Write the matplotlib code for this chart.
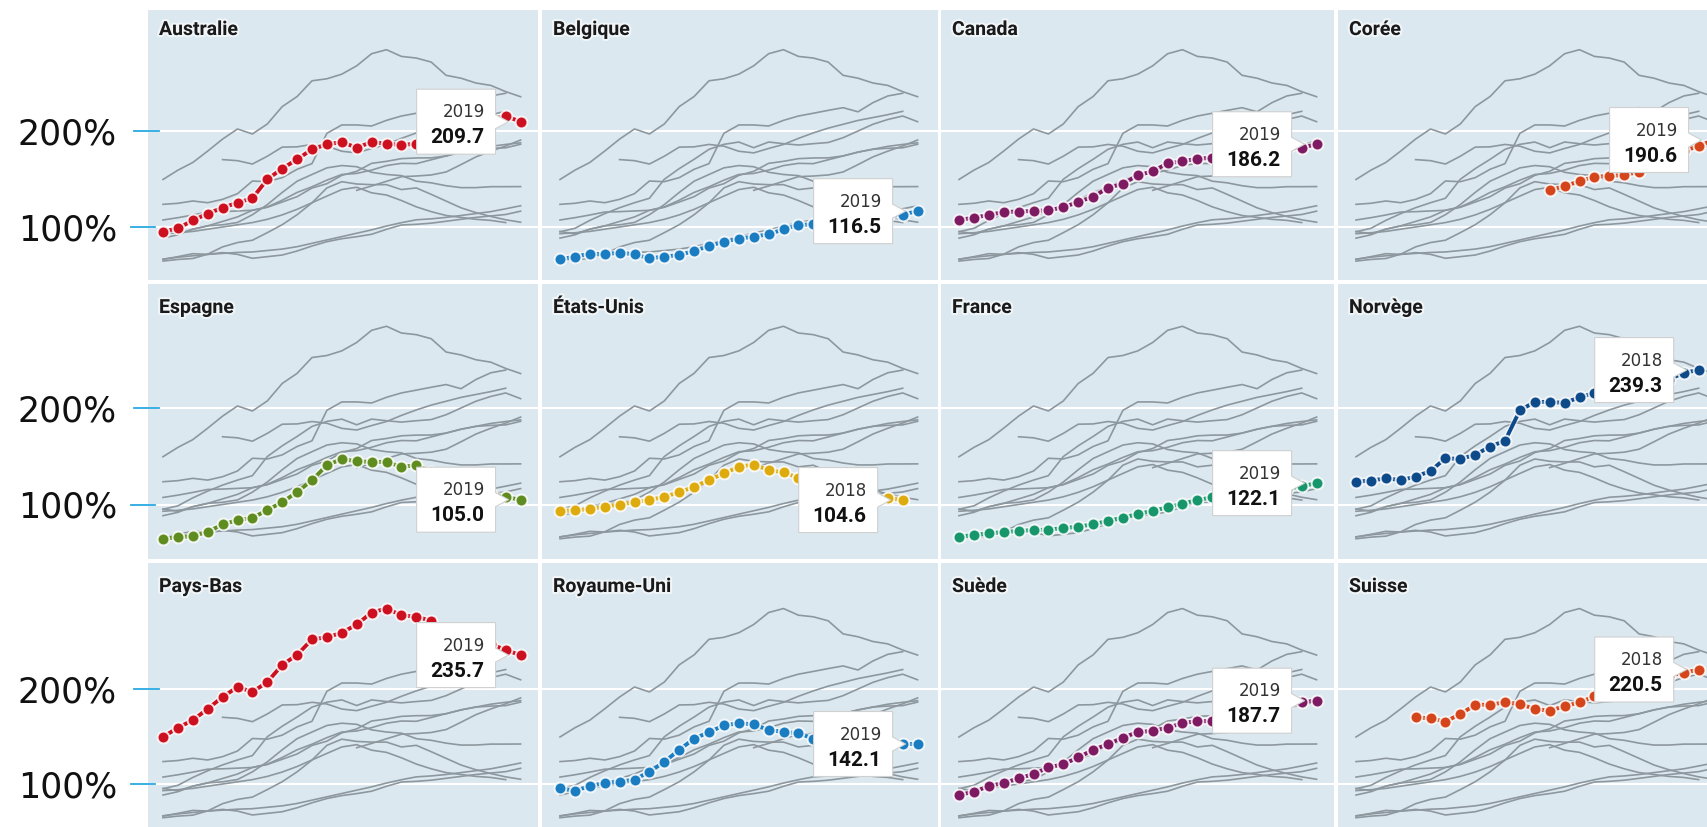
import numpy as np
import matplotlib
matplotlib.use('Agg')
import matplotlib.pyplot as plt
import matplotlib.patheffects as pe
import matplotlib.transforms as mtransforms
from matplotlib.patches import Polygon
from matplotlib.lines import Line2D

nan = np.nan
years = list(range(1995, 2020))

countries = ['Australie', 'Belgique', 'Canada', 'Corée',
             'Espagne', 'États-Unis', 'France', 'Norvège',
             'Pays-Bas', 'Royaume-Uni', 'Suède', 'Suisse']

australie = [95.1, 98.6, 106.9, 113.9, 120.1, 125.3, 129.9, 149.7, 160.8, 170.5, 180.9, 186.1, 188.5,
             182.6, 188.5, 186.8, 185.4, 186.8, 188, 193, 200, 207, 212, 215.6, 209.7]
belgique = [66.3, 69.1, 72.2, 71.5, 73.3, 71.5, 67.4, 69.1, 70.8, 75.0, 80.2, 84.7, 87.8,
            89.9, 92.4, 97.6, 102.1, 102.8, 104, 106, 108, 110, 111.5, 113, 116.5]
canada = [107.3, 109.7, 112.5, 115.6, 116.0, 116.7, 117.4, 120.5, 126.0, 131.6, 140.6, 145.1, 153.8,
          158.0, 166.3, 168.4, 171.2, 171.9, 172, 174, 178, 181, 182, 182.5, 186.2]
coree = [nan, nan, nan, nan, nan, nan, nan, nan, nan, nan, nan, nan, nan,
         138.2, 142.7, 147.6, 152.4, 153.1, 154.2, 157.3, 165, 173, 179, 184.4, 190.6]
espagne = [64.5, 66.2, 67.2, 71.7, 79.3, 83.8, 86.2, 94.1, 102.4, 112.8, 125.2, 140.7, 147.2,
           144.8, 144.1, 144.1, 139.0, 140.7, 134, 127, 120, 115, 111, 107.5, 105.0]
etats_unis = [93, 94, 95.4, 97.7, 100, 102.3, 104.6, 108, 112.6, 118.4, 125.3, 132.2, 139,
              141.4, 135.6, 133.3, 127.6, 121, 116, 112, 110, 108, 106.9, 104.6, nan]
france = [66.5, 68.5, 70, 71.5, 72.5, 73.5, 74, 75.5, 77, 79.5, 83, 86.5, 90,
          93.5, 97, 101, 104.5, 107.5, 108.5, 110, 112, 114, 116, 119, 122.1]
norvege = [123.6, 124.7, 127.1, 125.3, 128.8, 134.7, 147.9, 147.2, 151.4, 160.1, 166.0, 197.6, 206.3,
           206.3, 205.2, 211.1, 215.6, 218.5, 221.5, 224.3, 220, 229.5, 236.5, 239.3, nan]
pays_bas = [149.5, 159.2, 167.2, 179.1, 191.6, 202.1, 196.9, 207.3, 225.4, 235.9, 252.3, 254.4, 259.2,
            267.9, 280.5, 284.7, 277.7, 276, 271.8, 258, 255, 250, 247.5, 241, 235.7]
royaume_uni = [95.3, 93, 97.7, 101.2, 102.3, 104.7, 112.8, 123.3, 136, 147.7, 154.7, 161.6, 164,
               162.8, 157, 154.7, 153.5, 147.7, 146, 143, 141, 141, 142, 142, 142.1]
suede = [88.4, 91.9, 97.7, 101.2, 105.8, 110.5, 117.4, 120.9, 127.9, 136, 141.9, 148.8, 154.7,
         155.8, 159.3, 164, 166.3, 166, 170, 174, 178, 181, 184, 186, 187.7]
suisse = [nan, nan, nan, nan, 170.2, 169.1, 165.6, 173.7, 183.2, 183.5, 186, 184.2, 178.9,
          177.2, 181.8, 186, 192.3, 198, 203, 207, 211, 214, 217, 220.5, nan]

series = [australie, belgique, canada, coree, espagne, etats_unis, france, norvege,
          pays_bas, royaume_uni, suede, suisse]

colors = ['#cc1020', '#1a7cc1', '#7d1a62', '#d5451b',
          '#5f8c1f', '#ddab0e', '#18966b', '#0d4a8a',
          '#cc1020', '#1a7cc1', '#7d1a62', '#d5451b']

tick_values = [200, 100]
tick_labels = ['200%', '100%']

# ---------------- layout (pixels) ----------------
W, H = 1708, 828
fig = plt.figure(figsize=(W / 100, H / 100), dpi=100)
fig.patch.set_facecolor('white')

col_left = [148, 542, 941, 1338]
col_width = [390, 396, 393, 392]
col_first = [15, 18, 18, 18]
row_top = [11, 285, 564]
row_height = [270, 275, 272]
row_g200 = [132, 409, 690]
row_g100 = [228, 505.5, 785]
title_off = [25, 29, 29]
step = 14.9

bg = '#dce8f0'
gray = '#8d979e'

for idx, name in enumerate(countries):
    r, c = divmod(idx, 4)
    l, w = col_left[c], col_width[c]
    t, h = row_top[r], row_height[r]
    ax = fig.add_axes([l / W, 1 - (t + h) / H, w / W, h / H])
    ax.set_facecolor(bg)
    for s in ax.spines.values():
        s.set_visible(False)
    ax.set_xticks([])
    ax.set_yticks([])
    x0 = 1995 - col_first[c] / step
    ax.set_xlim(x0, x0 + w / step)
    ppu = (row_g100[r] - row_g200[r]) / 100.0
    ytop = 200 + (row_g200[r] - t) / ppu
    ybot = 100 - (t + h - row_g100[r]) / ppu
    ax.set_ylim(ybot, ytop)

    for v in tick_values:
        ax.axhline(v, color='white', lw=1.5, zorder=1)

    for s_vals in series:
        ax.plot(years, s_vals, color=gray, lw=1.2, zorder=2, solid_joinstyle='round')

    vals = series[idx]
    col = colors[idx]
    ax.plot(years, vals, color=col, lw=2.8, zorder=4,
            path_effects=[pe.Stroke(linewidth=5, foreground='white', alpha=0.55), pe.Normal()])
    ax.plot(years, vals, 'o', ms=8.5, mfc=col, mec=(1, 1, 1, 0.85), mew=1.4, zorder=5)

    # callout
    arr = np.array(vals, dtype=float)
    k = int(np.where(~np.isnan(arr))[0][-1])
    xd, yd = years[k], arr[k]
    trans = fig.dpi_scale_trans + mtransforms.ScaledTranslation(xd, yd, ax.transData)
    poly = np.array([(-104, 32.5), (-25, 32.5), (-25, 7), (-12, 0), (-25, -7),
                     (-25, -32.5), (-104, -32.5)]) / 100.0
    ax.add_patch(Polygon(poly, closed=True, transform=trans, facecolor='white',
                         edgecolor='#d0d0d0', lw=0.8, zorder=6, clip_on=False))
    ax.text(-36 / 100, 5.5 / 100, str(xd), transform=trans, ha='right', va='baseline',
            fontsize=12, family='DejaVu Sans', color='#333333', zorder=7)
    ax.text(-36 / 100, -20.5 / 100, f'{yd:.1f}', transform=trans, ha='right', va='baseline',
            fontsize=15, weight='bold', family='Roboto', color='#111111', zorder=7)

    fig.text((l + 11) / W, 1 - (t + title_off[r]) / H, name, fontsize=14, weight='bold',
             family='Roboto', color='#1a1a1a', va='baseline', ha='left',
             path_effects=[pe.withStroke(linewidth=3, foreground='white', alpha=0.6)])

# left axis labels and ticks
for r in range(3):
    for v, lab, gy, tx0, tx1 in [(200, tick_labels[0], row_g200[r], 134, 159),
                                 (100, tick_labels[1], row_g100[r], 131, 155)]:
        fig.text(117 / W, 1 - (gy + 12.5) / H, lab, ha='right', va='baseline',
                 fontsize=25, family='DejaVu Sans', color='#111111')
        fig.add_artist(Line2D([tx0 / W, tx1 / W], [1 - gy / H, 1 - gy / H],
                              transform=fig.transFigure, color='#29a9e1', lw=1.3, zorder=5))

fig.savefig('out.png', dpi=100)
